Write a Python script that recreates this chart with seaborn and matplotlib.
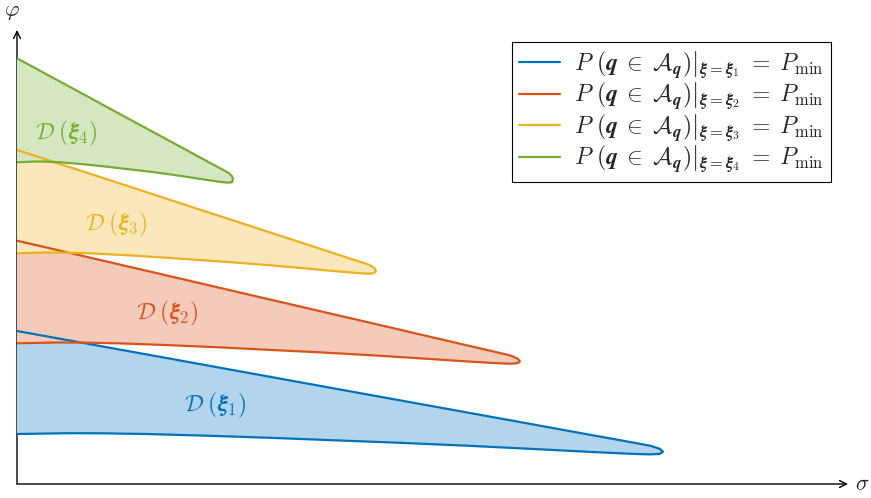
import numpy as np
import pandas as pd
import matplotlib
matplotlib.use("Agg")
import matplotlib.pyplot as plt
import seaborn as sns

# Boundary of each feasible region D(xi_k): upper edge from the phi axis to the tip,
# then the lower edge back to the phi axis.
sigma_1 = [0.0, 1.615, 3.23, 4.845, 5.814, 6.202, 6.331, 6.428, 6.46,
           6.428, 6.331, 6.137, 5.814, 5.168, 4.522, 3.876, 3.23, 2.584,
           1.938, 1.292, 0.840, 0.517, 0.0]
phi_1 = [1.53, 1.238, 0.945, 0.653, 0.477, 0.407, 0.383, 0.352, 0.323,
         0.301, 0.296, 0.302, 0.317, 0.35, 0.382, 0.41, 0.435, 0.46,
         0.482, 0.50, 0.507, 0.508, 0.50]

sigma_2 = [0.0, 1.258, 2.515, 3.773, 4.527, 4.829, 4.929, 5.005, 5.03,
           5.005, 4.929, 4.779, 4.527, 4.024, 3.521, 3.018, 2.515, 2.012,
           1.509, 1.006, 0.654, 0.402, 0.0]
phi_2 = [2.433, 2.141, 1.848, 1.556, 1.38, 1.31, 1.286, 1.255, 1.226,
         1.208, 1.203, 1.209, 1.224, 1.257, 1.289, 1.317, 1.342, 1.367,
         1.389, 1.407, 1.414, 1.415, 1.407]

sigma_3 = [0.0, 0.898, 1.795, 2.693, 3.231, 3.446, 3.518, 3.572, 3.59,
           3.572, 3.518, 3.411, 3.231, 2.872, 2.513, 2.154, 1.795, 1.436,
           1.077, 0.718, 0.467, 0.287, 0.0]
phi_3 = [3.34, 3.048, 2.755, 2.463, 2.287, 2.217, 2.193, 2.162, 2.133,
         2.108, 2.103, 2.109, 2.124, 2.157, 2.189, 2.217, 2.242, 2.267,
         2.289, 2.307, 2.314, 2.315, 2.307]

sigma_4 = [0.0, 0.54, 1.08, 1.62, 1.944, 2.074, 2.117, 2.149, 2.16,
           2.149, 2.117, 2.052, 1.944, 1.728, 1.512, 1.296, 1.08, 0.864,
           0.648, 0.432, 0.281, 0.173, 0.0]
phi_4 = [4.257, 3.965, 3.672, 3.38, 3.204, 3.134, 3.11, 3.079, 3.05,
         3.018, 3.013, 3.019, 3.034, 3.067, 3.099, 3.127, 3.152, 3.177,
         3.199, 3.217, 3.224, 3.225, 3.217]

legend_labels = [
    r"$P\ \left.(\boldsymbol{q}\;\in\;\mathcal{A}_{\boldsymbol{q}})\right|_{\boldsymbol{\xi}=\boldsymbol{\xi}_%d}\;=\;P_{\mathrm{min}}$" % k
    for k in range(1, 5)
]
region_labels = [r"$\mathcal{D}\;(\boldsymbol{\xi}_%d)$" % k for k in range(1, 5)]
label_pos_sigma = [1.98, 1.50, 0.99, 0.49]
label_pos_phi = [0.79, 1.71, 2.60, 3.51]

line_colors = ["#0072BD", "#D95319", "#EDB120", "#77AC30"]
fill_colors = ["#B3D5EB", "#F4CBBA", "#FAE8BC", "#D6E6C1"]

sigmas = [sigma_1, sigma_2, sigma_3, sigma_4]
phis = [phi_1, phi_2, phi_3, phi_4]

frames = []
for lab, s, p in zip(legend_labels, sigmas, phis):
    frames.append(pd.DataFrame({"sigma": s, "phi": p, "curve": lab}))
df = pd.concat(frames, ignore_index=True)

sns.set_style("white")
plt.rcParams["mathtext.fontset"] = "cm"
plt.rcParams["font.family"] = ["DejaVu Sans"]

fig = plt.figure(figsize=(8.71, 4.98), dpi=100)
ax = fig.add_axes([17 / 871, 14 / 498, 831 / 871, 454 / 498])
ax.set_xlim(0, 8.31)
ax.set_ylim(0, 4.54)

# filled regions, later ones drawn over earlier ones
for lab, fc in zip(legend_labels, fill_colors):
    sub = df[df["curve"] == lab]
    ax.fill(sub["sigma"], sub["phi"], color=fc, lw=0, zorder=2)

sns.lineplot(data=df, x="sigma", y="phi", hue="curve",
             estimator=None, sort=False, palette=line_colors,
             hue_order=legend_labels, lw=1.6, ax=ax, zorder=3)

for lab, c, xs, ys in zip(region_labels, line_colors, label_pos_sigma, label_pos_phi):
    ax.text(xs, ys, lab, color=c, fontsize=17, ha="center", va="center", zorder=4)

# axes drawn as arrows
arrow = dict(arrowstyle="->,head_length=0.5,head_width=0.25", lw=1.0, color="black",
             shrinkA=0, shrinkB=0)
ax.annotate("", xy=(8.31, 0), xytext=(0, 0), arrowprops=arrow,
            annotation_clip=False, zorder=1)
ax.annotate("", xy=(0, 4.54), xytext=(0, 0), arrowprops=arrow,
            annotation_clip=False, zorder=1)
ax.text(8.45, 0.0, r"$\sigma$", fontsize=16, ha="center", va="center")
ax.text(-0.05, 4.72, r"$\varphi$", fontsize=16, ha="center", va="center")

for sp in ax.spines.values():
    sp.set_visible(False)
ax.set_xticks([])
ax.set_yticks([])
ax.set_xlabel("")
ax.set_ylabel("")

handles, labels = ax.get_legend_handles_labels()
leg = ax.legend(handles, labels, loc="upper right",
                bbox_to_anchor=(831 / 871, 1 - 42 / 498),
                bbox_transform=fig.transFigure, borderaxespad=0,
                fontsize=17, handlelength=1.75, handletextpad=0.6,
                labelspacing=0.0, borderpad=0.3,
                fancybox=False, framealpha=1, edgecolor="black")
leg.get_frame().set_linewidth(0.8)

fig.savefig("out.png", dpi=100)
